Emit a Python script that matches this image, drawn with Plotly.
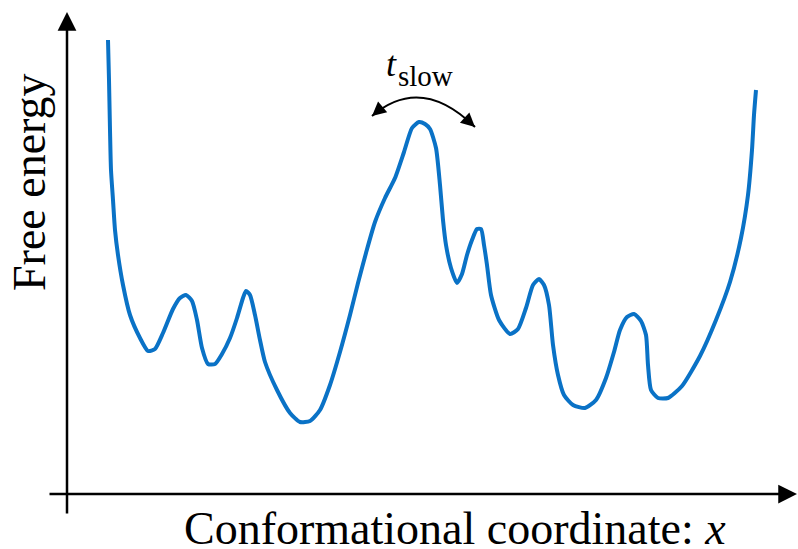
import plotly.graph_objects as go

# Conformational coordinate (arbitrary units) and free energy (arbitrary units)
coord = [41, 42, 43, 44, 46, 48, 51, 56, 63, 73,
         81, 88, 96, 106, 113, 119, 125, 130, 135, 141,
         148, 155, 163, 170, 176, 179, 183, 188, 193, 198,
         210, 223, 233, 243, 253, 263, 273, 283, 291, 299,
         308, 318, 328, 337, 345, 352, 358, 363, 369, 373,
         376, 379, 384, 390, 395, 400, 405, 410, 414, 417,
         420, 424, 432, 443, 451, 459, 466, 472, 477, 482,
         486, 491, 497, 506, 518, 529, 539, 547, 553, 560,
         567, 574, 579, 581, 584, 591, 601, 615, 633, 649,
         663, 674, 681, 685, 687, 689]
energy = [454, 414, 364, 324, 294, 264, 239, 209, 179, 156,
          143, 145, 161, 185, 196, 199, 193, 174, 146, 130,
          130, 140, 156, 176, 196, 203, 199, 179, 154, 132,
          104, 81, 72, 73, 84, 109, 142, 179, 211, 241,
          272, 296, 316, 342, 366, 372, 370, 365, 346, 309,
          274, 249, 226, 211, 220, 239, 254, 265, 265, 249,
          229, 199, 174, 160, 165, 186, 209, 215, 209, 189,
          149, 119, 99, 89, 86, 94, 116, 142, 164, 177,
          180, 173, 159, 129, 104, 96, 96, 108, 138, 174,
          212, 256, 299, 344, 379, 404]

x_label = "Conformational coordinate: <i>x</i>"
y_label = "Free energy"
t_main = "<i>t</i>"
t_sub = "slow"

FONT = "Liberation Serif"
W, H = 798, 549


def px(x, y):
    return dict(x=x / W, y=1 - y / H, xref="paper", yref="paper",
                xanchor="center", yanchor="middle")


fig = go.Figure()
fig.add_trace(go.Scatter(
    x=coord, y=energy, mode="lines",
    line=dict(color="#0a72c6", width=4, shape="spline", smoothing=0.6),
    hoverinfo="skip", showlegend=False))

arrow = dict(xref="x", yref="y", axref="x", ayref="y", showarrow=True,
             arrowhead=2, arrowcolor="black", text="")
ann = [
    # y axis arrow
    dict(x=0, y=482, ax=0, ay=-21, arrowsize=1.5, arrowwidth=2.5, **arrow),
    # x axis arrow
    dict(x=730, y=0, ax=-19, ay=0, arrowsize=1.5, arrowwidth=2.5, **arrow),
    # arc arrowheads
    dict(x=305, y=378, ax=315, ay=386.6, arrowsize=1.4, arrowwidth=2, **arrow),
    dict(x=408, y=367, ax=397, ay=377, arrowsize=1.4, arrowwidth=2, **arrow),
    # labels
    dict(showarrow=False, text=x_label,
         font=dict(family=FONT, size=46, color="black"), **px(455, 528)),
    dict(showarrow=False, text=y_label, textangle=-90,
         font=dict(family=FONT, size=46, color="black"), **px(29, 182)),
    dict(showarrow=False, text=t_main,
         font=dict(family=FONT, size=36, color="black"), **px(391, 64)),
    dict(showarrow=False, text=t_sub,
         font=dict(family=FONT, size=29, color="black"), **px(425, 76)),
]

fig.update_layout(
    width=W, height=H,
    margin=dict(l=0, r=0, t=0, b=0),
    paper_bgcolor="white", plot_bgcolor="white",
    xaxis=dict(range=[-67, 731], visible=False, fixedrange=True),
    yaxis=dict(range=[-55, 494], visible=False, fixedrange=True),
    annotations=ann,
    shapes=[dict(type="path", path="M 305,378 Q 354,420 408,367",
                 xref="x", yref="y", line=dict(color="black", width=2))],
)

fig.write_html("out.html", config={"displayModeBar": False},
               post_script="document.body.style.margin='0';document.body.style.overflow='hidden';")
